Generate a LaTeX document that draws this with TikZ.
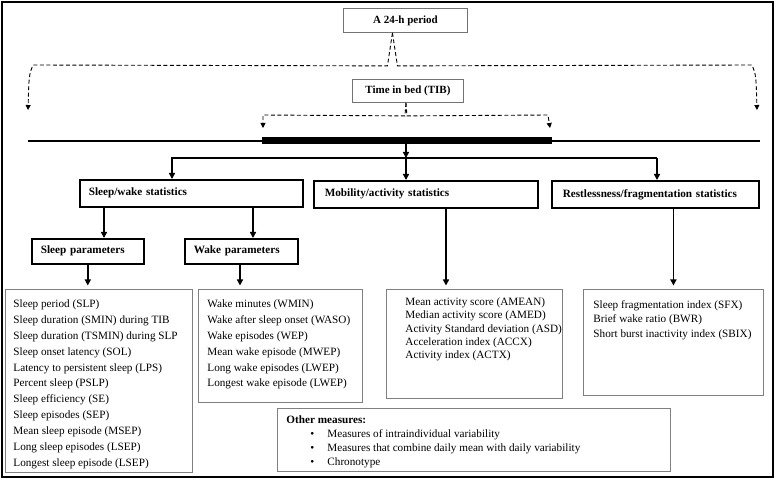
\documentclass[tikz,border=0pt]{standalone}
\usepackage{fontspec}
\setmainfont{Liberation Serif}
\usetikzlibrary{arrows.meta}
\newcommand{\lbtext}[6]{\parbox[t][#2][t]{#1}{\fontsize{11.2}{#5}\selectfont\leftskip=#3\relax\vspace*{#4}\rule{0pt}{8.5pt}#6\par}}
\begin{document}
\begin{tikzpicture}[
  x=1pt, y=-1pt,
  hdr/.style={draw, line width=1.6pt, font=\fontsize{11.2}{13}\selectfont\bfseries, inner ysep=0pt, anchor=north west, align=left},
  tbox/.style={draw=black!55, line width=0.9pt, font=\fontsize{11}{13}\selectfont\bfseries, inner sep=0pt, anchor=north west},
  lbox/.style={draw=black!50, line width=0.9pt, inner sep=0pt, anchor=north west},
  arr/.style={line width=1.5pt, -{Triangle[length=6pt,width=6pt]}},
  dsh/.style={line width=0.9pt, dash pattern=on 4pt off 2.5pt, -{Triangle[length=5pt,width=5pt]}}
]
\useasboundingbox (0,0) rectangle (777,481);
% outer frame
\draw[line width=2.2pt] (2,2) rectangle (773,477);

% top boxes
\node[tbox, minimum width=124pt, minimum height=24pt] (day) at (343,8) {A 24-h period};
\node[tbox, minimum width=111pt, minimum height=23pt] (tib) at (352,79) {Time in bed (TIB)};

% timeline
\coordinate (tl) at (28,141);
\coordinate (tr) at (760,141);
\coordinate (bl) at (262,140.5);
\coordinate (br) at (552,140.5);
\draw[line width=1.6pt] (tl) -- (tr);
\draw[line width=7pt] (bl) -- (br);

% dashed arrows from 24-h period
\coordinate (dl) at (28,110);
\coordinate (dr) at (757,110);
\draw[dsh] (day.south) ++(-13,0) -- ++(-5,33) -- (33,65) .. controls (29,75) .. (dl);
\draw[dsh] (day.south) ++(-13,0) -- ++(5,33) -- (752,65) .. controls (756,75) .. (dr);

% dashed arrows from TIB
\coordinate (tbl) at (263,128);
\coordinate (tbr) at (550,128);
\draw[dsh] (tib.south) ++(-2,0) -- ++(-1,13) -- (263,115) -- (tbl);
\draw[dsh] (tib.south) ++(-2,0) -- ++(1,13) -- (548,115) -- (tbr);

% header boxes
\node[hdr, inner xsep=9pt, text width=205pt, minimum height=27pt] (sw) at (79,179) {Sleep/wake statistics};
\node[hdr, inner xsep=11pt, text width=202pt, minimum height=27pt] (mob) at (313,180) {Mobility/activity statistics};
\node[hdr, inner xsep=11pt, text width=185pt, minimum height=27pt] (rst) at (551,180) {Restlessness/fragmentation statistics};
\node[hdr, inner xsep=9pt, text width=94pt, minimum height=25pt] (sp) at (31,238) {Sleep parameters};
\node[hdr, inner xsep=9pt, text width=95pt, minimum height=25pt] (wp) at (184,238) {Wake parameters};

% branching arrows
\coordinate (c0) at (406,144);
\coordinate (c1) at (406,158);
\coordinate (bL) at (172,158);
\coordinate (bR) at (657,158);
\draw[arr] (c0) -- (c1);
\draw[arr] (c1) -- (c1 |- mob.north);
\draw[arr] (bR) -- (bL) -- (bL |- sw.north);
\draw[line width=1.5pt] (bR) -- (bL);
\draw[arr] (bR) -- (bR |- rst.north);

% list boxes
\node[lbox] (sl) at (5,289) {\lbtext{187pt}{183pt}{8pt}{9.5pt}{15.9}{%
Sleep period (SLP)\\
Sleep duration (SMIN) during TIB\\
Sleep duration (TSMIN) during SLP\\
Sleep onset latency (SOL)\\
Latency to persistent sleep (LPS)\\
Percent sleep (PSLP)\\
Sleep efficiency (SE)\\
Sleep episodes (SEP)\\
Mean sleep episode (MSEP)\\
Long sleep episodes (LSEP)\\
Longest sleep episode (LSEP)}};
\node[lbox] (wl) at (198,289) {\lbtext{164pt}{113pt}{9pt}{9.5pt}{15.9}{%
Wake minutes (WMIN)\\
Wake after sleep onset (WASO)\\
Wake episodes (WEP)\\
Mean wake episode (MWEP)\\
Long wake episodes (LWEP)\\
Longest wake episode (LWEP)}};
\node[lbox] (ml) at (386,289) {\lbtext{176pt}{109pt}{19pt}{7.5pt}{13.3}{%
Mean activity score (AMEAN)\\
Median activity score (AMED)\\
Activity Standard deviation (ASD)\\
Acceleration index (ACCX)\\
Activity index (ACTX)}};
\node[lbox] (rl) at (583,289) {\lbtext{180pt}{106pt}{10pt}{10.5pt}{14.3}{%
Sleep fragmentation index (SFX)\\
Brief wake ratio (BWR)\\
Short burst inactivity index (SBIX)}};
\node[lbox] (ol) at (277,408) {\lbtext{393pt}{63pt}{9pt}{6.5pt}{14}{%
\textbf{Other measures:}\\
\hspace*{24pt}\makebox[17pt][l]{\textbullet}Measures of intraindividual variability\\
\hspace*{24pt}\makebox[17pt][l]{\textbullet}Measures that combine daily mean with daily variability\\
\hspace*{24pt}\makebox[17pt][l]{\textbullet}Chronotype}};

% arrows to sub boxes and lists
\coordinate (xs) at (104,0);
\coordinate (xw) at (253,0);
\coordinate (xm) at (446,0);
\draw[arr] (sw.south -| xs) -- (sp.north -| xs);
\draw[arr] (sw.south -| xw) -- (wp.north -| xw);
\draw[arr, shorten >=3.5pt] (sp.south) -- (sp.south |- sl.north);
\draw[arr, shorten >=3.5pt] (wp.south -| 240,0) -- (wl.north -| 240,0);
\draw[arr, shorten >=3.5pt] (mob.south -| xm) -- (ml.north -| xm);
\draw[arr, shorten >=3.5pt] (rst.south -| rl.north) -- (rl.north);
\end{tikzpicture}
\end{document}
